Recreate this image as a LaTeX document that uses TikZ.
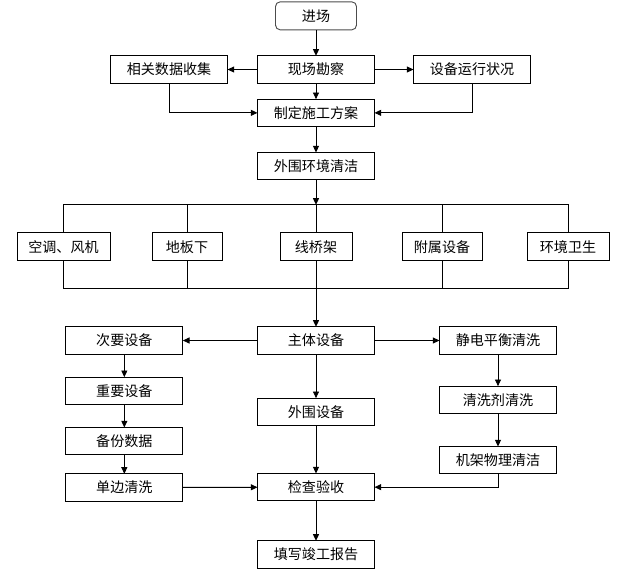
\documentclass[tikz,border=0pt]{standalone}
\usepackage{fontspec}
\newfontfamily\cjk{Noto Sans CJK SC}
\usetikzlibrary{positioning,arrows.meta}

\begin{document}
\begin{tikzpicture}[every node/.style={inner sep=0pt, outer sep=0pt, font=\cjk\fontsize{12}{14}\selectfont},
  box/.style={draw, line width=0.8pt, minimum width=3.51cm, minimum height=0.82cm},
  rbox/.style={box, minimum height=0.84cm},
  arr/.style={line width=0.8pt, -{Triangle[length=2mm,width=1.8mm]}},
  ln/.style={line width=0.8pt}]
  \useasboundingbox (0,0) rectangle (18.87,-17.4);

  \node[box] (xc) at (9.48,-2.085) {现场勘察};
  \node[box, draw=black!70, minimum width=2.43cm, minimum height=0.84cm, rounded corners=4pt, above = 0.78cm of xc] (jc) {进场};
  \node[box, left = 0.9cm of xc] (xg) {相关数据收集};
  \node[box, right = 1.17cm of xc] (sb) {设备运行状况};
  \node[box, below = 0.48cm of xc] (zd) {制定施工方案};
  \node[box, below = 0.78cm of zd] (hw) {外围环境清洁};
  \draw[arr] (jc) -- (xc);
  \draw[arr] (xc) -- (xg);
  \draw[arr] (xc) -- (sb);
  \draw[arr] (xc) -- (zd);
  \draw[arr] (xg) |- (zd);
  \draw[arr] (sb) |- (zd);
  \draw[arr] (zd) -- (hw);

  \node[rbox, minimum width=2.16cm, below = 1.59cm of hw] (qj) {线桥架};
  \node[rbox, minimum width=2.1cm, left = 1.74cm of qj] (db) {地板下};
  \node[rbox, minimum width=2.79cm, left = 1.26cm of db] (kt) {空调、风机};
  \node[rbox, minimum width=2.4cm, right = 1.5cm of qj] (fs) {附属设备};
  \node[rbox, minimum width=2.46cm, right = 1.35cm of fs] (hj) {环境卫生};
  \coordinate[above = 0.84cm of qj.north] (bt);
  \coordinate[below = 0.84cm of qj.south] (bb);
  \draw[arr] (hw) -- (bt);
  \draw[ln] (kt.north) |- (bt) -| (hj.north);
  \draw[ln] (db.north) -- (db.north |- bt);
  \draw[ln] (fs.north) -- (fs.north |- bt);
  \draw[ln] (bt) -- (qj.north);
  \draw[ln] (kt.south) |- (bb) -| (hj.south);
  \draw[ln] (db.south) -- (db.south |- bb);
  \draw[ln] (fs.south) -- (fs.south |- bb);
  \draw[ln] (qj.south) -- (bb);

  \node[box, below = 1.14cm of bb] (zt) {主体设备};
  \node[box, left = 2.24cm of zt] (cy) {次要设备};
  \node[box, right = 1.95cm of zt] (jd) {静电平衡清洗};
  \node[box, below = 0.69cm of cy] (zy) {重要设备};
  \node[box, below = 0.69cm of zy] (bf) {备份数据};
  \node[box, below = 0.57cm of bf] (dq) {单边清洗};
  \node[box, below = 1.32cm of zt] (ww) {外围设备};
  \node[box, below = 1.44cm of ww] (jy) {检查验收};
  \node[box, below = 1.2cm of jy] (tx) {填写竣工报告};
  \node[box, below = 0.96cm of jd] (qx) {清洗剂清洗};
  \node[box, below = 0.99cm of qx] (jj) {机架物理清洁};
  \draw[arr] (bb) -- (zt);
  \draw[arr] (zt) -- (cy);
  \draw[arr] (zt) -- (jd);
  \draw[arr] (cy) -- (zy);
  \draw[arr] (zy) -- (bf);
  \draw[arr] (bf) -- (dq);
  \draw[arr] (zt) -- (ww);
  \draw[arr] (ww) -- (jy);
  \draw[arr] (jy) -- (tx);
  \draw[arr] (jd) -- (qx);
  \draw[arr] (qx) -- (jj);
  \draw[arr] (dq) -- (jy);
  \draw[arr] (jj) |- (jy);
\end{tikzpicture}
\end{document}
